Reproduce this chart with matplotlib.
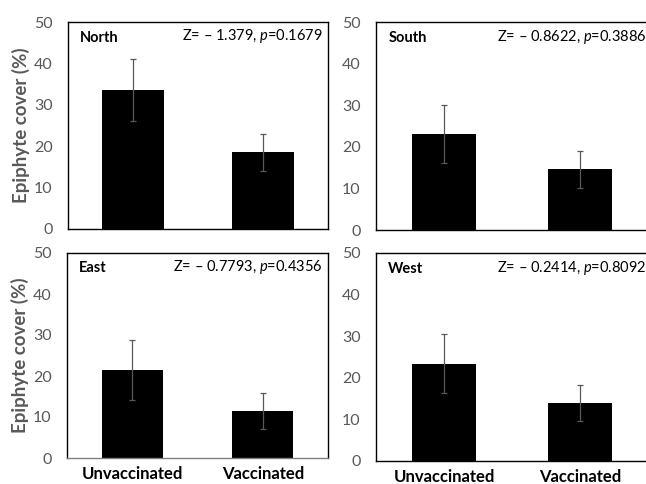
import matplotlib
matplotlib.use("Agg")
from matplotlib import pyplot as plt
import numpy as np

plt.rcParams['font.family'] = ['Lato', 'DejaVu Sans']
plt.rcParams['mathtext.fontset'] = 'custom'
plt.rcParams['mathtext.rm'] = 'Lato'
plt.rcParams['mathtext.it'] = 'Lato:italic'

groups = ["Unvaccinated", "Vaccinated"]
regions = ["North", "South", "East", "West"]
means_north = [33.5, 18.5]
err_north = [7.5, 4.5]
means_south = [23.0, 14.6]
err_south = [7.0, 4.5]
means_east = [21.5, 11.5]
err_east = [7.3, 4.4]
means_west = [23.4, 13.9]
err_west = [7.1, 4.4]
stats = ["Z= \u2013 1.379, $p$=0.1679",
         "Z= \u2013 0.8622, $p$=0.3886",
         "Z= \u2013 0.7793, $p$=0.4356",
         "Z= \u2013 0.2414, $p$=0.8092"]
means = [means_north, means_south, means_east, means_west]
errs = [err_north, err_south, err_east, err_west]

W, H = 646, 484
fig = plt.figure(figsize=(W/100, H/100), dpi=100)

# panel boxes in pixels: left, right, top, bottom
boxes = [(68, 328, 22, 229),
         (376, 648, 22, 230),
         (67, 328, 253, 458),
         (376, 648, 253, 461)]

grey = '#595959'
x = np.arange(len(groups))
for i in range(4):
    l, r, t, b = boxes[i]
    ax = fig.add_axes([l/W, 1-b/H, (r-l)/W, (b-t)/H])
    ax.bar(x, means[i], width=0.47, color='black', zorder=2)
    ax.errorbar(x, means[i], yerr=errs[i], fmt='none', ecolor=grey,
                elinewidth=0.9, capsize=2, capthick=0.9, zorder=3)
    ax.set_xlim(-0.5, 1.5)
    ax.set_ylim(0, 50)
    ax.set_yticks([0, 10, 20, 30, 40, 50])
    ax.tick_params(axis='both', length=0)
    ax.tick_params(axis='y', labelsize=11.5, labelcolor=grey, pad=11)
    for s in ax.spines.values():
        s.set_color('black')
        s.set_linewidth(1.0)
    if i == 2:
        ax.spines['bottom'].set_color('#808080')
    if i >= 2:
        ax.set_xticks(x)
        ax.set_xticklabels(groups, fontsize=12, fontweight='bold')
        ax.tick_params(axis='x', pad=6)
    else:
        ax.set_xticks([])
    if i % 2 == 0:
        ax.set_ylabel("Epiphyte cover (%)", fontsize=13.5, fontweight='bold',
                      color=grey, labelpad=3)
    ax.text(0.045, 0.925, regions[i], transform=ax.transAxes, fontsize=10.5,
            fontweight='bold', ha='left', va='center')
    ax.text(0.98 if i % 2 == 0 else 0.995, 0.93, stats[i],
            transform=ax.transAxes, fontsize=10.5, ha='right', va='center')

fig.savefig('out.png', dpi=100)
